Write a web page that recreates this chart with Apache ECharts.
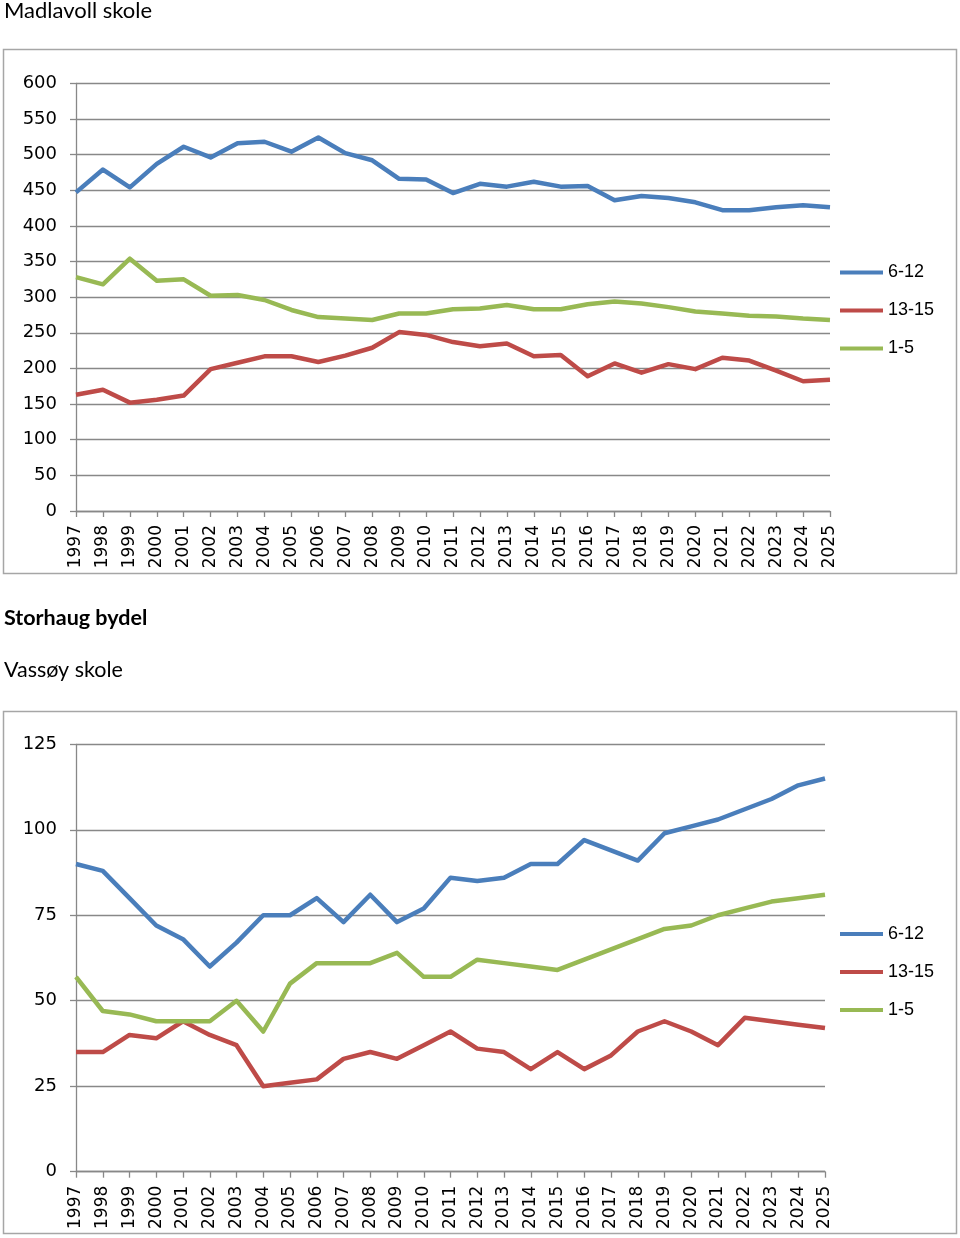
<!DOCTYPE html>
<html>
<head>
<meta charset="utf-8">
<script src="https://cdn.jsdelivr.net/npm/echarts@6/dist/echarts.min.js"></script>
<style>
html,body{margin:0;padding:0;background:#fff;}
#c{width:960px;height:1238px;}
</style>
</head>
<body>
<div id="c"></div>
<script>
const years = ['1997','1998','1999','2000','2001','2002','2003','2004','2005','2006','2007','2008','2009','2010','2011','2012','2013','2014','2015','2016','2017','2018','2019','2020','2021','2022','2023','2024','2025'];
const seriesNames = ['6-12','13-15','1-5'];

// Madlavoll skole
const madlavoll_6_12 = [447,479,454,487,511,496,516,518,504,524,502,492,466,465,446,459,455,462,455,456,436,442,439,433,422,422,426,429,426];
const madlavoll_13_15 = [163,170,152,156,162,199,208,217,217,209,218,229,251,247,237,231,235,217,219,189,207,194,206,199,215,211,197,182,184];
const madlavoll_1_5 = [328,318,354,323,325,302,303,296,282,272,270,268,277,277,283,284,289,283,283,290,294,291,286,280,277,274,273,270,268];
const madlavollTicks = [0,50,100,150,200,250,300,350,400,450,500,550,600];

// Vassøy skole
const vassoy_6_12 = [90,88,80,72,68,60,67,75,75,80,73,81,73,77,86,85,86,90,90,97,94,91,99,101,103,106,109,113,115];
const vassoy_13_15 = [35,35,40,39,44,40,37,25,26,27,33,35,33,37,41,36,35,30,35,30,34,41,44,41,37,45,44,43,42];
const vassoy_1_5 = [57,47,46,44,44,44,50,41,55,61,61,61,64,57,57,62,61,60,59,62,65,68,71,72,75,77,79,80,81];
const vassoyTicks = [0,25,50,75,100,125];

const colors = ['#4a7ebb','#be4b48','#98b954'];
const gridColor = '#888888';
const axisFont = '"DejaVu Sans"';

function xAxis(gridIndex){
  return {
    type:'category', gridIndex, data: years, boundaryGap:false,
    axisLine:{show:true, lineStyle:{color:gridColor, width:1.3}},
    axisTick:{show:true, length:6, lineStyle:{color:gridColor, width:1.3}},
    axisLabel:{rotate:90, margin:14, color:'#000', fontFamily:axisFont, fontSize:17, interval:0},
    splitLine:{show:false}
  };
}
function yAxis(gridIndex, ticks){
  return {
    type:'value', gridIndex, min:ticks[0], max:ticks[ticks.length-1], interval:ticks[1]-ticks[0],
    axisLine:{show:true, lineStyle:{color:gridColor, width:1.3}},
    axisTick:{show:true, length:6, lineStyle:{color:gridColor, width:1.3}},
    axisLabel:{margin:19, color:'#000', fontFamily:axisFont, fontSize:18},
    splitLine:{show:true, lineStyle:{color:gridColor, width:1.3}}
  };
}
function line(name, data, idx, gi){
  return {
    type:'line', name, data, xAxisIndex:gi, yAxisIndex:gi,
    symbol:'none', smooth:false, animation:false,
    lineStyle:{color:colors[idx], width:4.5, join:'round'},
    itemStyle:{color:colors[idx]}
  };
}
function legend(top){
  return {
    orient:'vertical', left:840, top, padding:0, itemGap:18,
    icon:'rect', itemWidth:43, itemHeight:4,
    data: seriesNames,
    selectedMode:false,
    textStyle:{fontFamily:'Liberation Sans', fontSize:18, color:'#000', lineHeight:20}
  };
}

const chart = echarts.init(document.getElementById('c'), null, {renderer:'canvas'});
chart.setOption({
  animation:false,
  backgroundColor:'#fff',
  graphic:[
    {type:'rect', shape:{x:3.5, y:49.5, width:953, height:524}, style:{fill:'none', stroke:'#a6a6a6', lineWidth:1.5}, z:-1},
    {type:'rect', shape:{x:3.5, y:711.5, width:953, height:522}, style:{fill:'none', stroke:'#a6a6a6', lineWidth:1.5}, z:-1},
    {type:'text', left:4, top:0, style:{text:'Madlavoll skole', font:'22px Lato', fill:'#000'}},
    {type:'text', left:4, top:607, style:{text:'Storhaug bydel', font:'bold 21.5px Lato', fill:'#000'}},
    {type:'text', left:4, top:659, style:{text:'Vassøy skole', font:'21.5px Lato', fill:'#000'}}
  ],
  legend:[legend(262.5), legend(924)],
  grid:[
    {left:76, right:130, top:83.3, bottom:1238-511, containLabel:false},
    {left:76, right:135, top:744.3, bottom:1238-1171.7, containLabel:false}
  ],
  xAxis:[xAxis(0), xAxis(1)],
  yAxis:[yAxis(0, madlavollTicks), yAxis(1, vassoyTicks)],
  series:[
    line(seriesNames[0], madlavoll_6_12, 0, 0),
    line(seriesNames[1], madlavoll_13_15, 1, 0),
    line(seriesNames[2], madlavoll_1_5, 2, 0),
    line(seriesNames[0], vassoy_6_12, 0, 1),
    line(seriesNames[1], vassoy_13_15, 1, 1),
    line(seriesNames[2], vassoy_1_5, 2, 1)
  ]
});
</script>
</body>
</html>
